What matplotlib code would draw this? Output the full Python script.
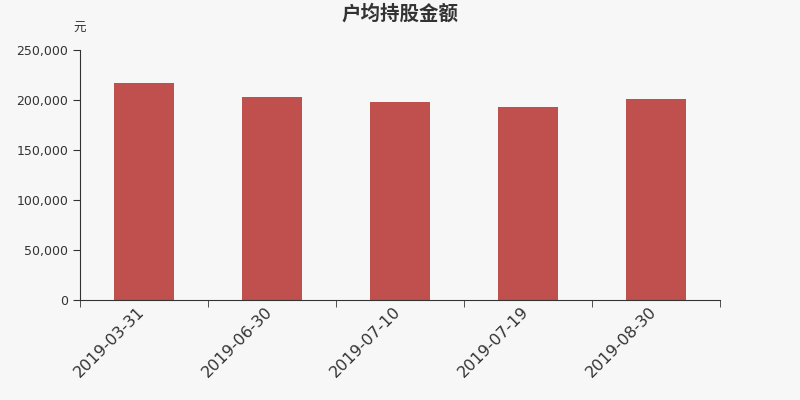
import numpy as np
import matplotlib
matplotlib.use("Agg")
import matplotlib.pyplot as plt
import matplotlib.transforms as mtrans
from matplotlib.ticker import FuncFormatter, MultipleLocator

plt.rcParams["font.family"] = ["Noto Sans CJK SC", "DejaVu Sans"]

# ── Datos ─────────────────────────────────────────────────────────────────────
fechas = ["2019-03-31", "2019-06-30", "2019-07-10", "2019-07-19", "2019-08-30"]
importe = [217000, 203300, 198000, 193000, 201000]

C_BG = "#F7F7F7"
C_BAR = "#C0504D"
C_AXIS = "#333333"

fig = plt.figure(figsize=(8, 4), dpi=100, facecolor=C_BG)
ax = fig.add_axes([0.1, 0.25, 0.8, 0.625])
ax.set_facecolor(C_BG)

x = np.arange(len(fechas))
ax.bar(x, importe, width=0.47, color=C_BAR, zorder=2)

ax.set_xlim(-0.5, len(fechas) - 0.5)
ax.set_ylim(0, 250000)
ax.yaxis.set_major_locator(MultipleLocator(50000))
ax.yaxis.set_major_formatter(FuncFormatter(lambda v, p: f"{int(v):,}"))

# ticks en los límites de categoría, etiquetas al centro
ax.set_xticks(x)
ax.set_xticklabels(fechas, rotation=45, ha="right", rotation_mode="anchor",
                   fontsize=11.5, color=C_AXIS, family="DejaVu Sans")
ax.set_xticks(np.arange(-0.5, len(fechas)), minor=True)
ax.tick_params(axis="x", which="major", length=0, pad=3)
ax.tick_params(axis="x", which="minor", length=5, color=C_AXIS)
ax.tick_params(axis="y", length=5, color=C_AXIS, labelsize=9, labelcolor=C_AXIS)
for lb in ax.get_yticklabels():
    lb.set_family("DejaVu Sans")

# desplazar etiquetas un poco a la izquierda
desp = mtrans.ScaledTranslation(-5 / 72, 0, fig.dpi_scale_trans)
for lb in ax.get_xticklabels():
    lb.set_transform(lb.get_transform() + desp)

ax.spines[["top", "right"]].set_visible(False)
ax.spines[["left", "bottom"]].set_color(C_AXIS)

fig.text(0.5, 0.965, "户均持股金额", ha="center", va="center",
         fontsize=14, fontweight="bold", color=C_AXIS)
fig.text(0.099, 0.928, "元", ha="center", va="center", fontsize=9, color=C_AXIS)

fig.savefig("out.png", dpi=100, facecolor=C_BG)
